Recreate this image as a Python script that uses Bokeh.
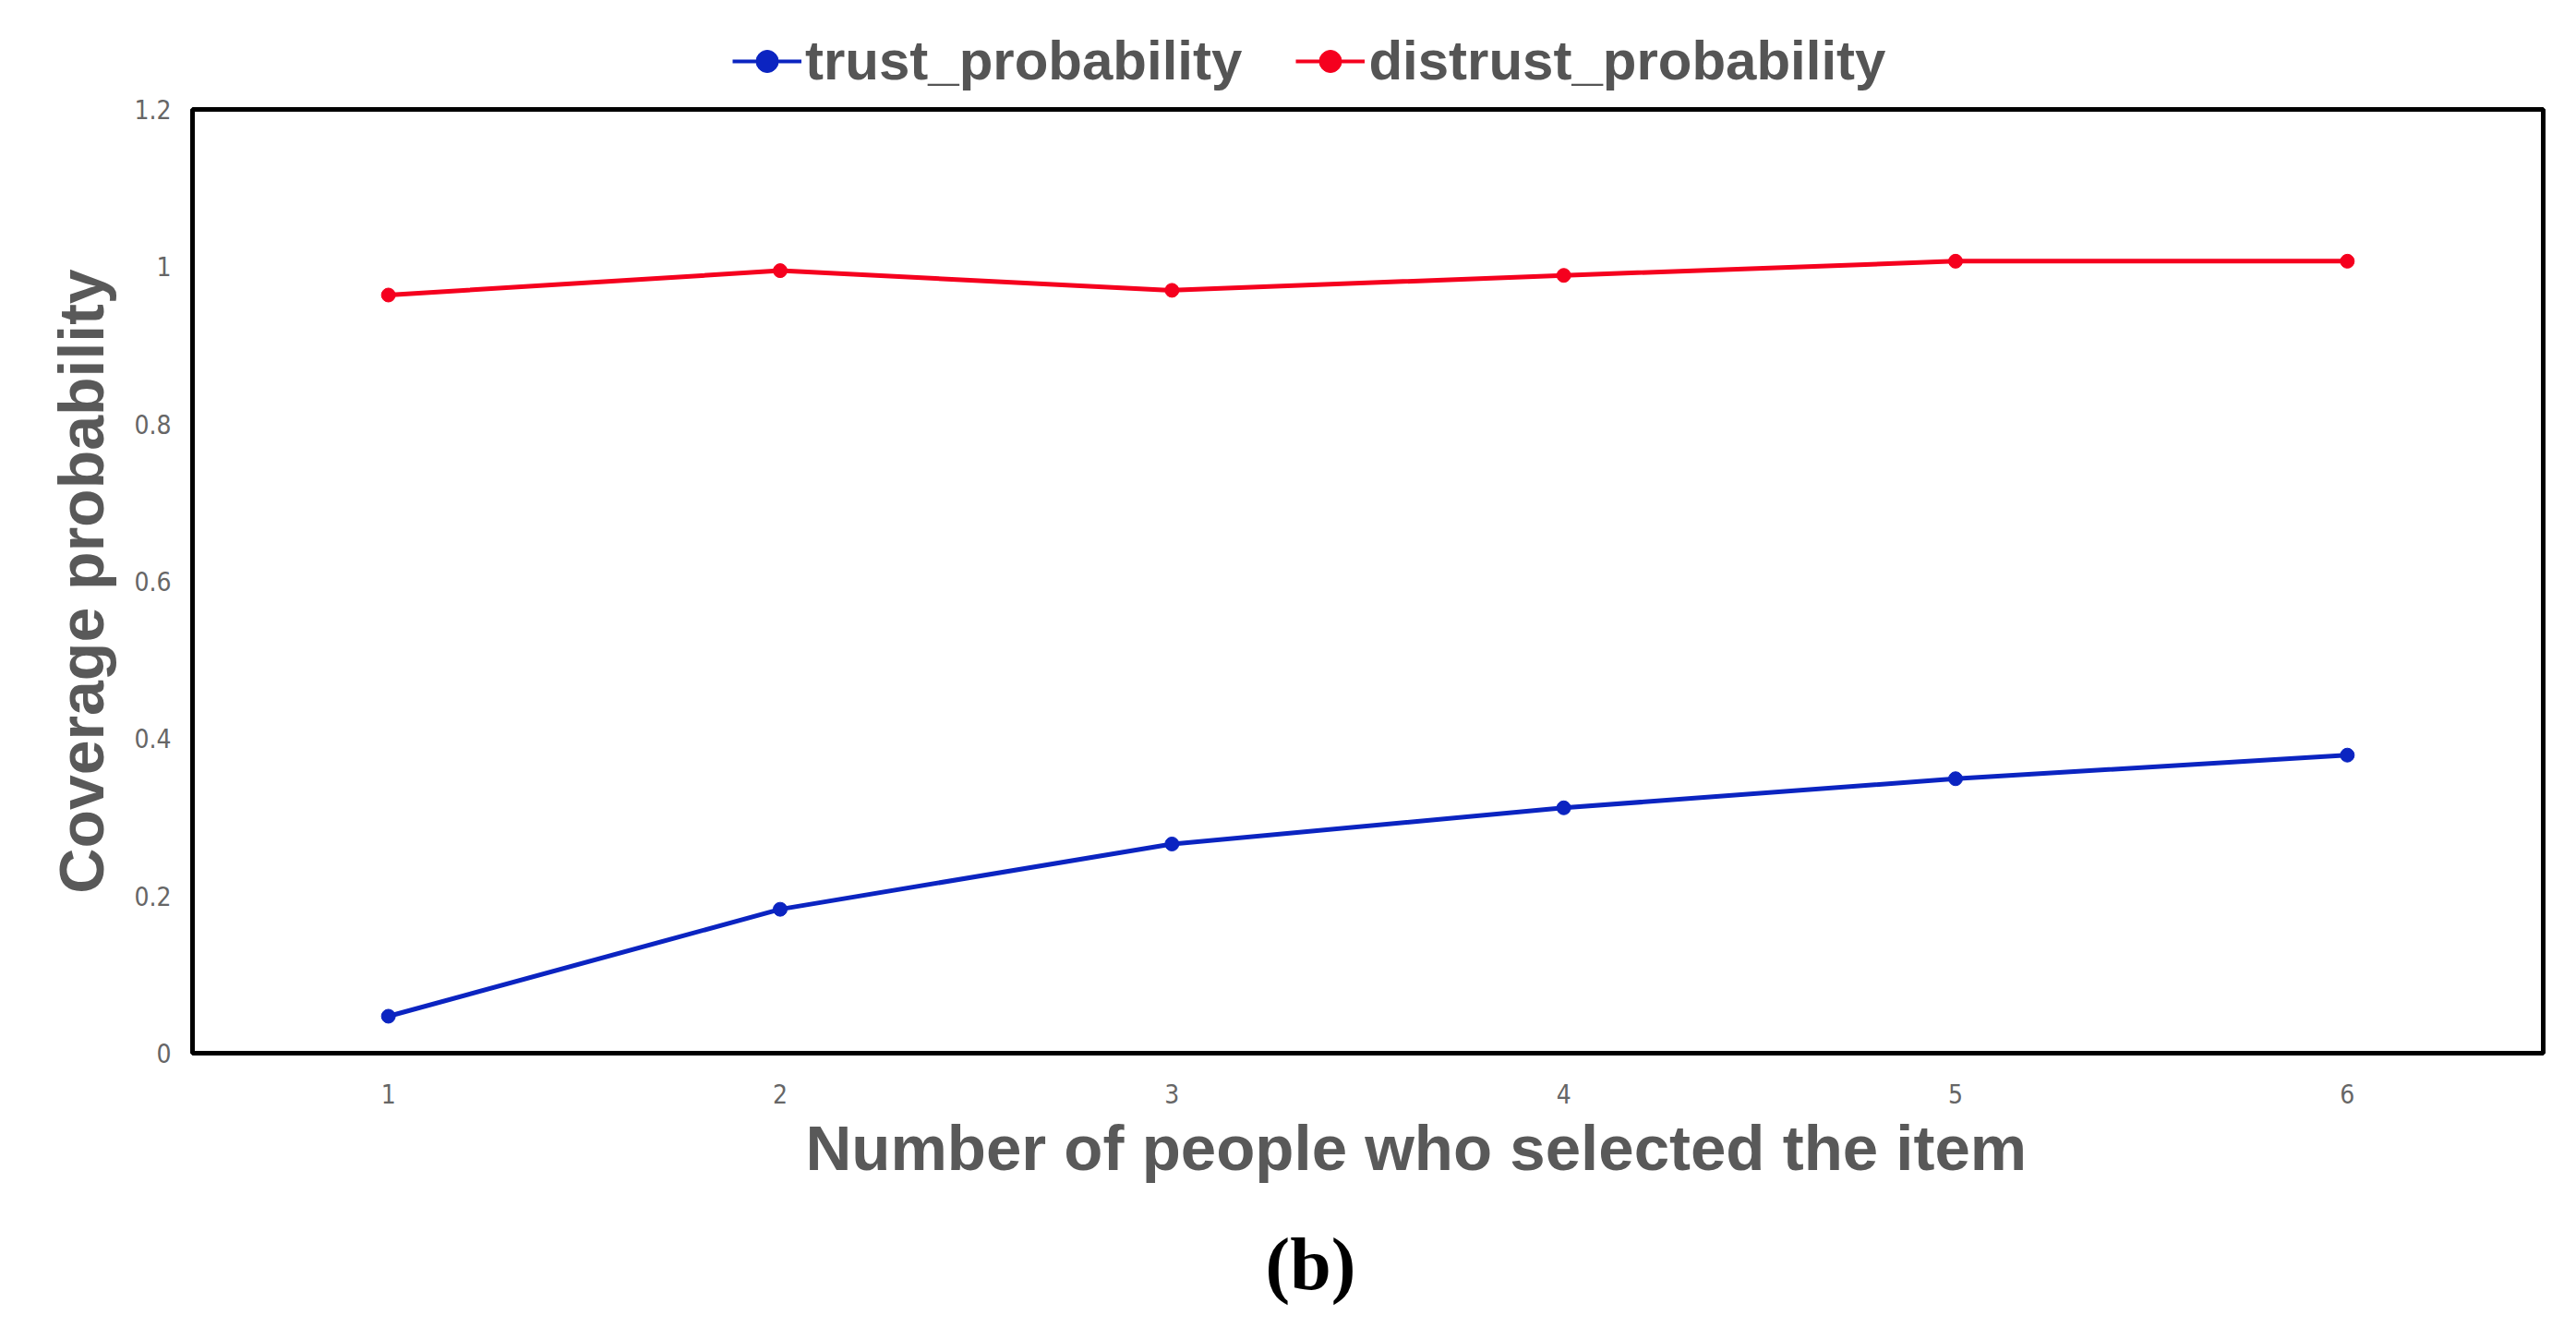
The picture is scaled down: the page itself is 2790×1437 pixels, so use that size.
from bokeh.plotting import figure
from bokeh.layouts import column
from bokeh.models import Legend, LegendItem, FixedTicker, Title
from bokeh.embed import file_html
from bokeh.resources import INLINE

# ---- data ----
x_values = [1, 2, 3, 4, 5, 6]
trust_probability = [0.047, 0.183, 0.266, 0.312, 0.349, 0.379]
distrust_probability = [0.964, 0.995, 0.970, 0.989, 1.007, 1.007]
x_ticks = [1, 2, 3, 4, 5, 6]
x_tick_labels = ["1", "2", "3", "4", "5", "6"]
y_ticks = [0, 0.2, 0.4, 0.6, 0.8, 1.0, 1.2]
y_tick_labels = ["0", "0.2", "0.4", "0.6", "0.8", "1", "1.2"]
series_names = ["trust_probability", "distrust_probability"]

BLUE = "#0B24C1"
RED = "#F5001E"
TICK_FONT = "DejaVu Sans Condensed"
LEG_H = 102

# ---- main chart ----
p = figure(frame_width=2546, frame_height=1022,
           x_range=(0.5, 6.5), y_range=(0, 1.2),
           output_backend="svg", toolbar_location=None,
           min_border_left=208, min_border_top=16,
           min_border_right=20, min_border_bottom=0,
           background_fill_color="white", border_fill_color="white")

p.outline_line_color = "black"
p.outline_line_width = 5
p.xgrid.visible = False
p.ygrid.visible = False

r1 = p.line(x_values, trust_probability, line_color=BLUE, line_width=5)
s1 = p.scatter(x_values, trust_probability, size=15, fill_color=BLUE, line_color=BLUE)
r2 = p.line(x_values, distrust_probability, line_color=RED, line_width=5)
s2 = p.scatter(x_values, distrust_probability, size=15, fill_color=RED, line_color=RED)

for ax in (p.xaxis[0], p.yaxis[0]):
    ax.axis_line_color = None
    ax.major_tick_line_color = None
    ax.minor_tick_line_color = None
    ax.major_label_text_font = TICK_FONT
    ax.major_label_text_font_size = "28px"
    ax.major_label_text_color = "#666666"

p.xaxis.ticker = FixedTicker(ticks=x_ticks)
p.xaxis.major_label_overrides = {t: l for t, l in zip(x_ticks, x_tick_labels)}
p.xaxis.major_label_standoff = 27

p.yaxis.ticker = FixedTicker(ticks=y_ticks)
p.yaxis.major_label_overrides = {t: l for t, l in zip(y_ticks, y_tick_labels)}
p.yaxis.major_label_standoff = 17
p.yaxis.axis_label = "Coverage probability"
p.yaxis.axis_label_text_font = "Liberation Sans"
p.yaxis.axis_label_text_font_style = "bold"
p.yaxis.axis_label_text_font_size = "68px"
p.yaxis.axis_label_text_color = "#595959"
p.yaxis.axis_label_standoff = 16

xlabel = Title(text="Number of people who selected the item", align="left",
               offset=664, text_font="Liberation Sans", text_font_style="bold",
               text_font_size="69px", text_color="#595959", standoff=10)
p.add_layout(xlabel, "below")

caption = Title(text="(b)", align="left", offset=1162,
                text_font="Liberation Serif", text_font_style="bold",
                text_font_size="80px", text_color="black", standoff=73)
p.add_layout(caption, "below")

# ---- legend strip above the chart (its own renderers sit outside its view) ----
lf = figure(width=2774, height=LEG_H, x_range=(100, 101), y_range=(100, 101),
            output_backend="svg", toolbar_location=None,
            min_border=0, min_border_left=0, min_border_right=0,
            min_border_top=0, min_border_bottom=0,
            background_fill_color="white", border_fill_color="white")
lf.outline_line_color = None
lf.axis.visible = False
lf.grid.visible = False
k1 = lf.line(x_values, trust_probability, line_color=BLUE, line_width=4)
k1s = lf.scatter(x_values, trust_probability, size=9, fill_color=BLUE, line_color=BLUE)
k2 = lf.line(x_values, distrust_probability, line_color=RED, line_width=4)
k2s = lf.scatter(x_values, distrust_probability, size=9, fill_color=RED, line_color=RED)

legend = Legend(items=[LegendItem(label=series_names[0], renderers=[k1, k1s]),
                       LegendItem(label=series_names[1], renderers=[k2, k2s])],
                orientation="horizontal", location=(585, 2),
                padding=0, margin=0, spacing=58,
                glyph_width=75, glyph_height=60, label_height=60,
                label_standoff=4,
                label_text_font="Liberation Sans", label_text_font_style="bold",
                label_text_font_size="60px", label_text_color="#555555",
                border_line_color=None, background_fill_alpha=0)
lf.add_layout(legend)

layout = column(lf, p, spacing=0)
open("out.html", "w").write(file_html(layout, INLINE))
